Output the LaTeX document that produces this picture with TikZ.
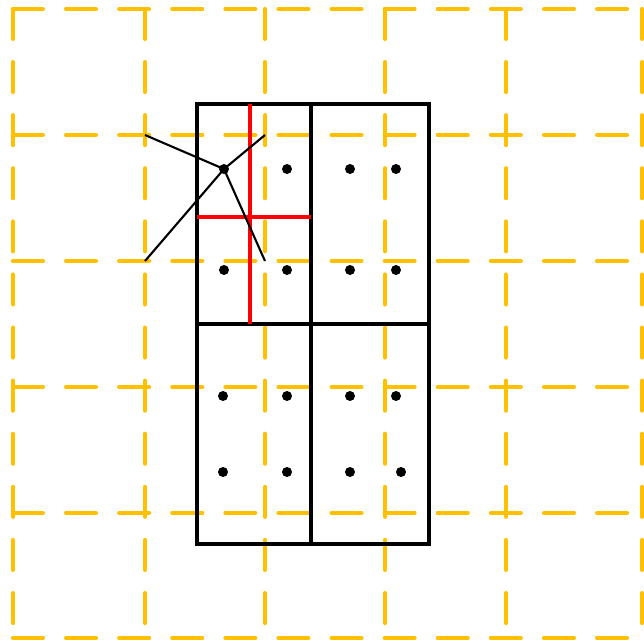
\documentclass[tikz,border=0pt]{standalone}
\definecolor{gridyellow}{RGB}{255,192,0}
\begin{document}
\begin{tikzpicture}[x=0.01cm, y=-0.01cm,
  gridline/.style={gridyellow, line width=1.2pt, line cap=round, dash pattern=on 8.5pt off 6.6pt},
  cellbox/.style={black, line width=1.25pt},
  split/.style={red, line width=1pt},
  link/.style={black, line width=0.6pt},
  dot/.style={circle, fill=black, inner sep=0pt, minimum size=0.1cm}]
  \useasboundingbox (0,0) rectangle (644,641);
  \foreach \gy in {9,135,261,387,513,638}
    \draw[gridline] (13,\gy) -- (642,\gy);
  \foreach \gx in {13,145,265,385,506,642}
    \draw[gridline] (\gx,9) -- (\gx,638);
  \coordinate (A) at (197,104);
  \coordinate (B) at (429,544);
  \coordinate (G1) at (145,135);
  \coordinate (G2) at (265,135);
  \coordinate (G3) at (145,261);
  \coordinate (G4) at (265,261);
  \draw[cellbox] (A) rectangle (B);
  \draw[cellbox] (311,104) -- (311,544);
  \draw[cellbox] (197,324) -- (429,324);
  \draw[split] (250,104) -- (250,324);
  \draw[split] (197,217) -- (311,217);
  \node[dot] (P) at (224,169) {};
  \draw[link] (P.center) -- (G1);
  \draw[link] (P.center) -- (G2);
  \draw[link] (P.center) -- (G3);
  \draw[link] (P.center) -- (G4);
  \node[dot] (d1) at (287,169) {};
  \node[dot] (d2) at (350,169) {};
  \node[dot] (d3) at (396,169) {};
  \node[dot] (d4) at (224,270) {};
  \node[dot] (d5) at (287,270) {};
  \node[dot] (d6) at (350,270) {};
  \node[dot] (d7) at (396,270) {};
  \node[dot] (d8) at (223,396) {};
  \node[dot] (d9) at (287,396) {};
  \node[dot] (d10) at (350,396) {};
  \node[dot] (d11) at (396,396) {};
  \node[dot] (d12) at (223,472) {};
  \node[dot] (d13) at (287,472) {};
  \node[dot] (d14) at (350,472) {};
  \node[dot] (d15) at (401,472) {};
\end{tikzpicture}
\end{document}
